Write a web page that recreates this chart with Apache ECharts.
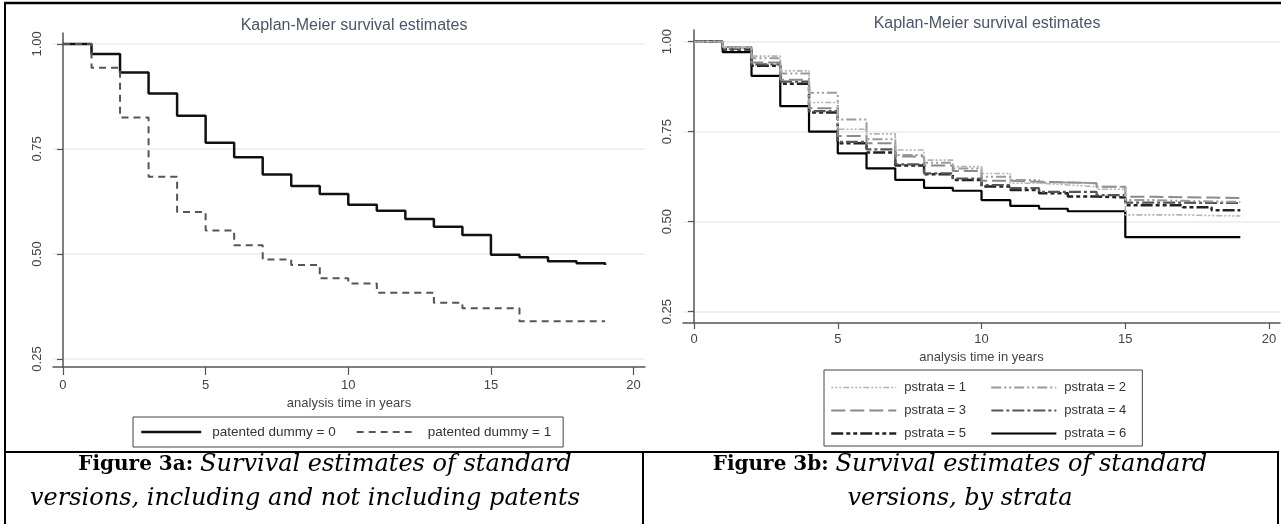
<!DOCTYPE html>
<html><head><meta charset="utf-8">
<script src="https://cdn.jsdelivr.net/npm/echarts@6/dist/echarts.min.js"></script>
<style>html,body{margin:0;padding:0;background:#fff}#c{width:1281px;height:524px}</style>
</head><body><div id="c"></div>
<script>
// ---- data ----
const years = [0,1,2,3,4,5,6,7,8,9,10,11,12,13,14,15,16,17,18,19];
const xTicks = [0,5,10,15,20];
const yTicks = [0.25,0.50,0.75,1.00];
const patented0 = [1.000,0.976,0.932,0.882,0.829,0.765,0.730,0.689,0.662,0.643,0.617,0.603,0.583,0.565,0.545,0.498,0.492,0.483,0.478,0.474];
const patented1 = [1.000,0.943,0.825,0.684,0.600,0.556,0.521,0.487,0.474,0.442,0.430,0.408,0.408,0.384,0.371,0.371,0.340,0.340,0.340,0.340];
const pstrata1 = [1,0.985,0.960,0.919,0.831,0.757,0.744,0.699,0.671,0.653,0.634,0.607,0.602,0.597,0.590,0.519,0.519,0.517,0.516,0.516];
const pstrata2 = [1,0.983,0.954,0.912,0.858,0.784,0.729,0.685,0.664,0.648,0.625,0.616,0.609,0.607,0.597,0.560,0.558,0.556,0.555,0.555];
const pstrata3 = [1,0.985,0.942,0.894,0.815,0.738,0.718,0.681,0.656,0.641,0.614,0.611,0.609,0.607,0.597,0.569,0.568,0.567,0.566,0.566];
const pstrata4 = [1,0.980,0.937,0.889,0.807,0.722,0.701,0.659,0.634,0.620,0.602,0.593,0.583,0.583,0.574,0.553,0.553,0.552,0.552,0.552];
const pstrata5 = [1,0.978,0.933,0.883,0.803,0.718,0.692,0.656,0.632,0.616,0.598,0.588,0.579,0.570,0.567,0.546,0.546,0.540,0.532,0.532];
const pstrata6 = [1,0.971,0.905,0.821,0.750,0.690,0.648,0.616,0.594,0.586,0.560,0.544,0.536,0.529,0.529,0.457,0.457,0.457,0.457,0.457];
const leftNames = ['patented dummy = 0','patented dummy = 1'];
const rightNames = ['pstrata = 1','pstrata = 2','pstrata = 3','pstrata = 4','pstrata = 5','pstrata = 6'];
const chartTitle = 'Kaplan-Meier survival estimates';
const xTitle = 'analysis time in years';
const capA = ['Figure 3a:', 'Survival estimates of standard', 'versions, including and not including patents'];
const capB = ['Figure 3b:', 'Survival estimates of standard', 'versions, by strata'];

// ---- styles ----
const leftStyles = [
  {color:'#111', width:2.5, type:'solid'},
  {color:'#555', width:2, type:[7,5]}
];
const rightStyles = [
  {color:'#b4b4b4', width:1.6, type:[2,2,2,2,2,2,6,2]},
  {color:'#9a9a9a', width:2, type:[10,3,2,3,2,3]},
  {color:'#8a8a8a', width:2, type:[14,5]},
  {color:'#555', width:2.2, type:[12,3,3,3]},
  {color:'#222', width:2.5, type:[12,3,4,3,4,3]},
  {color:'#000', width:2.2, type:'solid'}
];
const rightData = [pstrata1,pstrata2,pstrata3,pstrata4,pstrata5,pstrata6];

const sans = 'Liberation Sans, Arial, sans-serif';
const serif = 'DejaVu Serif, serif';
const axisCol = '#555';

function xAxis(gi, min, max, tickLen, margin, nameGap){
  return {type:'value', gridIndex:gi, min:min, max:max,
    axisLine:{show:true, lineStyle:{color:axisCol, width:1.5}},
    axisTick:{show:true, customValues:xTicks, length:tickLen, lineStyle:{color:axisCol, width:1.2}},
    axisLabel:{customValues:xTicks, margin:margin, color:'#444', fontSize:13, fontFamily:sans},
    splitLine:{show:false},
    name:xTitle, nameLocation:'middle', nameGap:nameGap,
    nameTextStyle:{color:'#444', fontSize:13, fontFamily:sans}};
}
function yAxis(gi, min, max, margin){
  return {type:'value', gridIndex:gi, min:min, max:max,
    axisLine:{show:true, lineStyle:{color:axisCol, width:1.5}},
    axisTick:{show:true, customValues:yTicks, length:6, lineStyle:{color:axisCol, width:1.2}},
    axisLabel:{customValues:yTicks, rotate:90, margin:margin, color:'#444', fontSize:13, fontFamily:sans,
      formatter:v=>v.toFixed(2)},
    splitLine:{show:true, lineStyle:{color:'#ebebeb', width:1.5}}};
}

const series = [];
[patented0, patented1].forEach((arr,i)=>{
  series.push({type:'line', name:leftNames[i], xAxisIndex:0, yAxisIndex:0, step:'end',
    symbol:'none', data:years.map((t,k)=>[t,arr[k]]),
    lineStyle:leftStyles[i], itemStyle:{color:leftStyles[i].color}});
});
rightData.forEach((arr,i)=>{
  series.push({type:'line', name:rightNames[i], xAxisIndex:1, yAxisIndex:1, step:'end',
    symbol:'none', data:years.map((t,k)=>[t,arr[k]]),
    lineStyle:rightStyles[i], itemStyle:{color:rightStyles[i].color}, z: 2 + (5-i)});
});

function line(x1,y1,x2,y2,w){
  return {type:'line', shape:{x1,y1,x2,y2}, style:{stroke:'#000', lineWidth:w}, silent:true};
}
function caption(cx, cy, parts){
  return {type:'text', x:cx, y:cy, style:{
    text: parts, align:'center', verticalAlign:'middle',
    rich:{b:{fontFamily:serif, fontWeight:'bold', fontSize:20, fill:'#000'},
          i:{fontFamily:serif, fontStyle:'italic', fontSize:24, fill:'#000'}}}};
}

const option = {
  animation:false,
  backgroundColor:'#fff',
  title:[
    {text:chartTitle, left:349, top:13, textAlign:'center', textStyle:{color:'#4b5568', fontSize:16, fontWeight:'normal', fontFamily:sans}},
    {text:chartTitle, left:982, top:11, textAlign:'center', textStyle:{color:'#4b5568', fontSize:16, fontWeight:'normal', fontFamily:sans}}
  ],
  grid:[
    {left:53, top:33, width:592, height:334},
    {left:683, top:30, width:597, height:293}
  ],
  xAxis:[ xAxis(0,-0.35,20.4,8,12,28), xAxis(1,-0.383,20.38,6,10,24) ],
  yAxis:[ yAxis(0,0.231,1.026,9), yAxis(1,0.2186,1.0325,9) ],
  legend:[
    {left:133, top:417, orient:'horizontal', padding:[8,12,8,7], itemWidth:60, itemHeight:14, itemGap:20,
     borderColor:'#444', borderWidth:1, selectedMode:false,
     textStyle:{fontSize:13.5, color:'#333', fontFamily:sans, padding:[0,0,0,6]},
     data: leftNames.map((n,i)=>({name:n, lineStyle:leftStyles[i], itemStyle:{opacity:0}}))},
    {left:824, top:370, orient:'horizontal', width:320, padding:[11,2,6,6], itemWidth:65, itemHeight:9, itemGap:10,
     borderColor:'#444', borderWidth:1, selectedMode:false,
     textStyle:{fontSize:13, color:'#333', fontFamily:sans, width:76, lineHeight:9, padding:[0,0,0,3]},
     data: rightNames.map((n,i)=>({name:n, lineStyle:rightStyles[i], itemStyle:{opacity:0}}))}
  ],
  series: series,
  graphic:[
    line(4,3,1281,3,2.5),
    line(5,3,5,524,2),
    line(5,452,1279,452,2),
    line(643,452,643,524,2),
    line(1278,452,1278,524,2),
    caption(325,465,'{b|'+capA[0]+' }{i|'+capA[1]+'}'),
    caption(305,499,'{i|'+capA[2]+'}'),
    caption(960,465,'{b|'+capB[0]+' }{i|'+capB[1]+'}'),
    caption(960,499,'{i|'+capB[2]+'}')
  ]
};
const chart = echarts.init(document.getElementById('c'), null, {renderer:'canvas'});
chart.setOption(option);
</script></body></html>
